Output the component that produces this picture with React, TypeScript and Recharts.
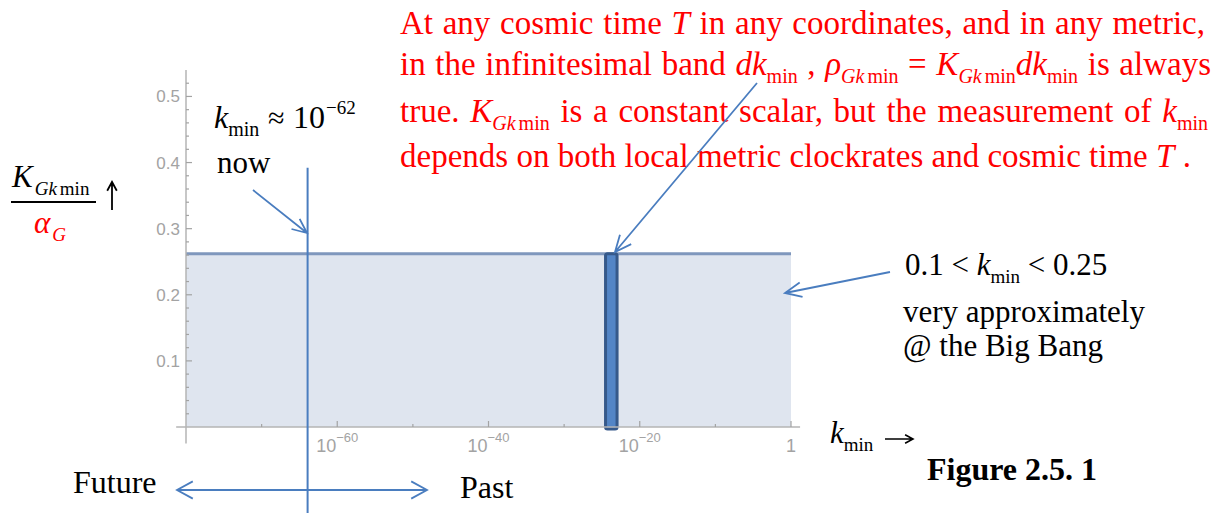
import React, { useLayoutEffect, useRef, useState } from "react"
import { ComposedChart, Area, XAxis, YAxis, ReferenceLine, ReferenceArea } from "recharts"

// plateau of K_Gkmin / alpha_G across k_min (log axis)
const bandK = [1e-80, 1]
const bandHeight = [0.262, 0.262]
const nowK = 1.2e-64
const nowSpan = [0.392, -0.13]
const barK = [3e-25, 1e-23]
const barSpan = [-0.003, 0.262]

const xMajorTicks = [1e-60, 1e-40, 1e-20, 1]
const xMinorTicks = [1e-70, 1e-50, 1e-30, 1e-10]
const yMajorTicks = [0.1, 0.2, 0.3, 0.4, 0.5]
const yMinorTicks = [0.02, 0.04, 0.06, 0.08, 0.12, 0.14, 0.16, 0.18, 0.22, 0.24, 0.26, 0.28, 0.32, 0.34, 0.36, 0.38, 0.42, 0.44, 0.46, 0.48, 0.52]

const data = bandK.map((k, i) => ({ k, kG: bandHeight[i] }))

const W = 1217
const H = 513
const SERIF = "'Liberation Serif', 'Times New Roman', serif"
const SANS = "'Liberation Sans', Arial, sans-serif"
const GRAY = "#a3a3a3"
const BLUE = "#4a7dbf"
const RED = "#ff0000"

const XTick = (props: any) => {
  const { x, y, payload } = props
  const v = payload.value
  const major = xMajorTicks.includes(v)
  const exp = Math.round(Math.log10(v))
  return (
    <g>
      <line x1={x} x2={x} y1={y} y2={y - (major ? 6 : 3)} stroke={GRAY} strokeWidth={1.2} />
      {major &&
        (exp === 0 ? (
          <text x={x} y={y + 25} textAnchor="middle" fill={GRAY} fontSize={18} fontFamily={SANS}>1</text>
        ) : (
          <text x={x} y={y + 25} textAnchor="middle" fill={GRAY} fontSize={18} fontFamily={SANS}>
            <tspan>10</tspan>
            <tspan dy={-10} fontSize={13}>{"\u2212" + -exp}</tspan>
          </text>
        ))}
    </g>
  )
}

const YTick = (props: any) => {
  const { x, y, payload } = props
  const v = payload.value
  const major = yMajorTicks.includes(v)
  return (
    <g>
      <line x1={x} x2={x + (major ? 6 : 3)} y1={y} y2={y} stroke={GRAY} strokeWidth={1.2} />
      {major && (
        <text x={x - 6} y={y + 6} textAnchor="end" fill={GRAY} fontSize={17} fontFamily={SANS}>
          {v.toFixed(1)}
        </text>
      )}
    </g>
  )
}

type Seg = { t: string; it?: boolean; sub?: boolean; dx?: number }

function segSpans(segs: Seg[], subFs: number, subDy: number) {
  let inSub = false
  return segs.map((s, i) => {
    let dy = 0
    if (s.sub && !inSub) dy = subDy
    else if (!s.sub && inSub) dy = -subDy
    inSub = !!s.sub
    return (
      <tspan key={i} dy={dy || undefined} dx={s.dx} fontStyle={s.it ? "italic" : undefined} fontSize={s.sub ? subFs : undefined}>
        {s.t}
      </tspan>
    )
  })
}

function TextLine({ x, y, segs, width, fill = "#000", size = 31, weight }: { x: number; y: number; segs: Seg[]; width?: number; fill?: string; size?: number; weight?: string }) {
  const ref = useRef<SVGTextElement>(null)
  const [ws, setWs] = useState(0)
  useLayoutEffect(() => {
    if (!width || !ref.current) return
    const len = ref.current.getComputedTextLength()
    const spaces = segs.reduce((n, s) => n + (s.t.match(/ /g) || []).length, 0)
    if (spaces) setWs((width - len) / spaces)
  }, [])
  return (
    <text ref={ref} x={x} y={y} fill={fill} fontSize={size} fontFamily={SERIF} fontWeight={weight} style={{ whiteSpace: "pre", wordSpacing: ws }}>
      {segSpans(segs, Math.round(size * 0.62), 8)}
    </text>
  )
}

function arrow(x1: number, y1: number, x2: number, y2: number, len = 16, ang = 0.45) {
  const a = Math.atan2(y2 - y1, x2 - x1)
  const p1 = [x2 - len * Math.cos(a - ang), y2 - len * Math.sin(a - ang)]
  const p2 = [x2 - len * Math.cos(a + ang), y2 - len * Math.sin(a + ang)]
  return `M${x1},${y1}L${x2},${y2}M${p1[0]},${p1[1]}L${x2},${y2}L${p2[0]},${p2[1]}`
}

const redLines: Seg[][] = [
  [{ t: "At any cosmic time " }, { t: "T", it: true }, { t: " in any coordinates, and in any metric," }],
  [
    { t: "in the infinitesimal band " }, { t: "dk", it: true }, { t: "min", sub: true },
    { t: " , " }, { t: "\u03c1", it: true }, { t: "Gk", it: true, sub: true }, { t: "min", sub: true, dx: 3 },
    { t: " = " }, { t: "K", it: true }, { t: "Gk", it: true, sub: true }, { t: "min", sub: true, dx: 3 },
    { t: "dk", it: true }, { t: "min", sub: true }, { t: " is always" },
  ],
  [
    { t: "true. " }, { t: "K", it: true }, { t: "Gk", it: true, sub: true }, { t: "min", sub: true, dx: 3 },
    { t: " is a constant scalar, but the measurement of " }, { t: "k", it: true }, { t: "min", sub: true },
  ],
  [{ t: "depends on both local metric clockrates and cosmic time " }, { t: "T", it: true }, { t: " ." }],
]
const redBaselines = [34, 75, 122, 167]

export default function App() {
  return (
    <div style={{ position: "absolute", left: 0, top: 0, width: W, height: H, background: "#fff" }}>
      <ComposedChart width={W} height={H} data={data} margin={{ top: 70, right: 426, bottom: 56, left: 126 }}>
        <XAxis
          dataKey="k"
          type="number"
          scale="log"
          domain={[1e-80, 1]}
          allowDataOverflow
          ticks={[...xMinorTicks, ...xMajorTicks].sort((a, b) => a - b)}
          interval={0}
          tick={<XTick />}
          tickLine={false}
          axisLine={false}
          tickSize={0}
          tickMargin={0}
          height={30}
        />
        <YAxis
          type="number"
          domain={[0, 0.54]}
          allowDataOverflow
          ticks={[...yMinorTicks, ...yMajorTicks].sort((a, b) => a - b)}
          interval={0}
          tick={<YTick />}
          tickLine={false}
          axisLine={false}
          tickSize={0}
          tickMargin={0}
          width={60}
        />
        <Area
          dataKey="kG"
          type="linear"
          stroke="#7f97bd"
          strokeWidth={3}
          fill="#dfe5ef"
          fillOpacity={1}
          isAnimationActive={false}
          dot={false}
          activeDot={false}
        />
        <ReferenceLine segment={[{ x: 10 ** -81.3, y: 0 }, { x: 10 ** 1.2, y: 0 }]} stroke="#b4b4b4" strokeWidth={1.5} ifOverflow="visible" />
        <ReferenceLine segment={[{ x: 1e-80, y: -0.025 }, { x: 1e-80, y: 0.54 }]} stroke="#b4b4b4" strokeWidth={1.5} ifOverflow="visible" />
        <ReferenceLine segment={[{ x: nowK, y: nowSpan[0] }, { x: nowK, y: nowSpan[1] }]} stroke={BLUE} strokeWidth={2} ifOverflow="visible" />
        <ReferenceArea x1={barK[0]} x2={barK[1]} y1={barSpan[0]} y2={barSpan[1]} fill="#5385c6" fillOpacity={1} stroke="#36598a" strokeWidth={3} radius={2} ifOverflow="visible" />
      </ComposedChart>

      <svg width={W} height={H} style={{ position: "absolute", left: 0, top: 0, pointerEvents: "none" }}>
        {redLines.map((segs, i) => (
          <TextLine key={i} x={400} y={redBaselines[i]} segs={segs} width={i < 3 ? 805 : undefined} fill={RED} size={33} />
        ))}

        <TextLine x={214} y={128} segs={[{ t: "k", it: true }, { t: "min", sub: true }]} size={32} />
        <text x={268} y={128} fontSize={30} fontFamily={SERIF}>{"\u2248"}</text>
        <text x={293} y={128} fontSize={32} fontFamily={SERIF}>10</text>
        <text x={326} y={114} fontSize={19} fontFamily={SERIF}>{"\u221262"}</text>
        <TextLine x={217} y={173} segs={[{ t: "now" }]} />

        {/* y label: K_Gkmin / alpha_G */}
        <TextLine x={12} y={187} segs={[{ t: "K", it: true }, { t: "Gk", it: true, sub: true, dx: 2 }, { t: "min", sub: true, dx: 3 }]} />
        <line x1={11} x2={96} y1={202} y2={202} stroke="#000" strokeWidth={2} />
        <path d={arrow(112, 210, 112, 182, 10, 0.5)} stroke="#000" strokeWidth={1.8} fill="none" />
        <TextLine x={34} y={233} segs={[{ t: "\u03b1", it: true }, { t: "G", it: true, sub: true, dx: 2 }]} fill={RED} />

        <TextLine x={905} y={275} segs={[{ t: "0.1 < " }, { t: "k", it: true }, { t: "min", sub: true }, { t: " < 0.25" }]} />
        <TextLine x={903} y={322} segs={[{ t: "very approximately" }]} />
        <TextLine x={903} y={356} segs={[{ t: "@ the Big Bang" }]} />
        <rect x={895} y={363} width={280} height={16} fill="#fff" />

        <TextLine x={830} y={443} segs={[{ t: "k", it: true }, { t: "min", sub: true }]} />
        <path d={arrow(885, 439, 913, 439, 9, 0.5)} stroke="#000" strokeWidth={1.6} fill="none" />
        <TextLine x={927} y={480} segs={[{ t: "Figure 2.5. 1" }]} weight="bold" size={32} />

        <TextLine x={73} y={493} segs={[{ t: "Future" }]} size={32} />
        <TextLine x={460} y={498} segs={[{ t: "Past" }]} size={32} />

        <g stroke={BLUE} strokeWidth={1.8} fill="none">
          <path d={arrow(253, 190, 307, 233, 16, 0.42)} />
          <path d={arrow(757, 83, 615, 252, 18, 0.42)} />
          <path d={arrow(890, 272, 785, 293, 18, 0.42)} />
          <path d={arrow(427, 490, 177, 490, 18, 0.5)} />
          <path d={arrow(177, 490, 427, 490, 18, 0.5)} />
        </g>
      </svg>
    </div>
  )
}
